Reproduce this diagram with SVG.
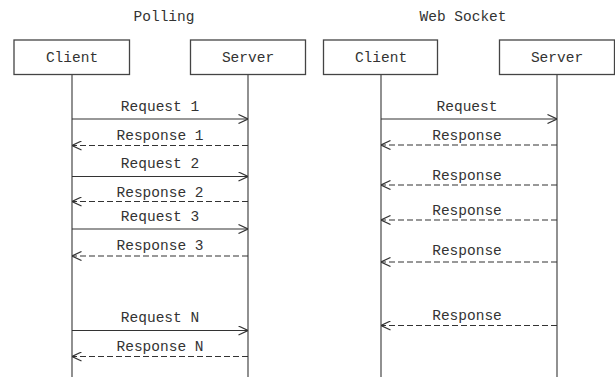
<svg xmlns="http://www.w3.org/2000/svg" width="615" height="377" viewBox="0 0 615 377">
<defs>
<style>
text{font-family:"Liberation Mono","Courier New",monospace;font-size:14.5px;fill:#333;text-anchor:middle}
.box{fill:#fff;stroke:#444;stroke-width:1.3}
.life{stroke:#555;stroke-width:1.3}
.req{stroke:#333;stroke-width:1.2;fill:none;marker-end:url(#open)}
.res{stroke:#333;stroke-width:1.2;fill:none;stroke-dasharray:6 3;marker-end:url(#open)}
</style>
<marker id="open" viewBox="0 0 10 10" refX="10" refY="5" markerWidth="10" markerHeight="10" markerUnits="userSpaceOnUse" orient="auto">
<path d="M0.5,0.5 L10,5 L0.5,9.5" fill="none" stroke="#333" stroke-width="1.2"/>
</marker>
</defs>
<rect width="615" height="377" fill="#fff"/>
<text x="164" y="21">Polling</text>
<text x="463" y="21">Web Socket</text>
<g id="lifelines">
<line class="life" x1="72" y1="74.5" x2="72" y2="377"/>
<line class="life" x1="248" y1="74.5" x2="248" y2="377"/>
<line class="life" x1="381" y1="74.5" x2="381" y2="377"/>
<line class="life" x1="557" y1="74.5" x2="557" y2="377"/>
</g>
<g id="polling-client"><rect class="box" x="14" y="40" width="115.5" height="34.5"/><text x="72" y="61.5">Client</text></g>
<g id="polling-server"><rect class="box" x="190.5" y="40" width="115" height="34.5"/><text x="248" y="61.5">Server</text></g>
<g id="ws-client"><rect class="box" x="323.5" y="40" width="114" height="34.5"/><text x="381" y="61.5">Client</text></g>
<g id="ws-server"><rect class="box" x="499.5" y="40" width="115" height="34.5"/><text x="557" y="61.5">Server</text></g>
<g id="connectors">
<line class="req" x1="72" y1="119" x2="248" y2="119"/>
<line class="res" x1="248" y1="145.5" x2="72" y2="145.5"/>
<line class="req" x1="72" y1="176.5" x2="248" y2="176.5"/>
<line class="res" x1="248" y1="201.5" x2="72" y2="201.5"/>
<line class="req" x1="72" y1="229" x2="248" y2="229"/>
<line class="res" x1="248" y1="256" x2="72" y2="256"/>
<line class="req" x1="72" y1="330.5" x2="248" y2="330.5"/>
<line class="res" x1="248" y1="356.5" x2="72" y2="356.5"/>
<line class="req" x1="381" y1="119" x2="557" y2="119"/>
<line class="res" x1="557" y1="145" x2="381" y2="145"/>
<line class="res" x1="557" y1="185" x2="381" y2="185"/>
<line class="res" x1="557" y1="220" x2="381" y2="220"/>
<line class="res" x1="557" y1="262" x2="381" y2="262"/>
<line class="res" x1="557" y1="325.5" x2="381" y2="325.5"/>
</g>
<g id="labels">
<text x="160" y="111">Request 1</text>
<text x="160" y="140">Response 1</text>
<text x="160" y="167.5">Request 2</text>
<text x="160" y="196.5">Response 2</text>
<text x="160" y="220.5">Request 3</text>
<text x="160" y="250">Response 3</text>
<text x="160" y="322">Request N</text>
<text x="160" y="351">Response N</text>
<text x="467" y="111">Request</text>
<text x="467" y="140">Response</text>
<text x="467" y="179.5">Response</text>
<text x="467" y="214.5">Response</text>
<text x="467" y="255">Response</text>
<text x="467" y="320">Response</text>
</g>
</svg>
